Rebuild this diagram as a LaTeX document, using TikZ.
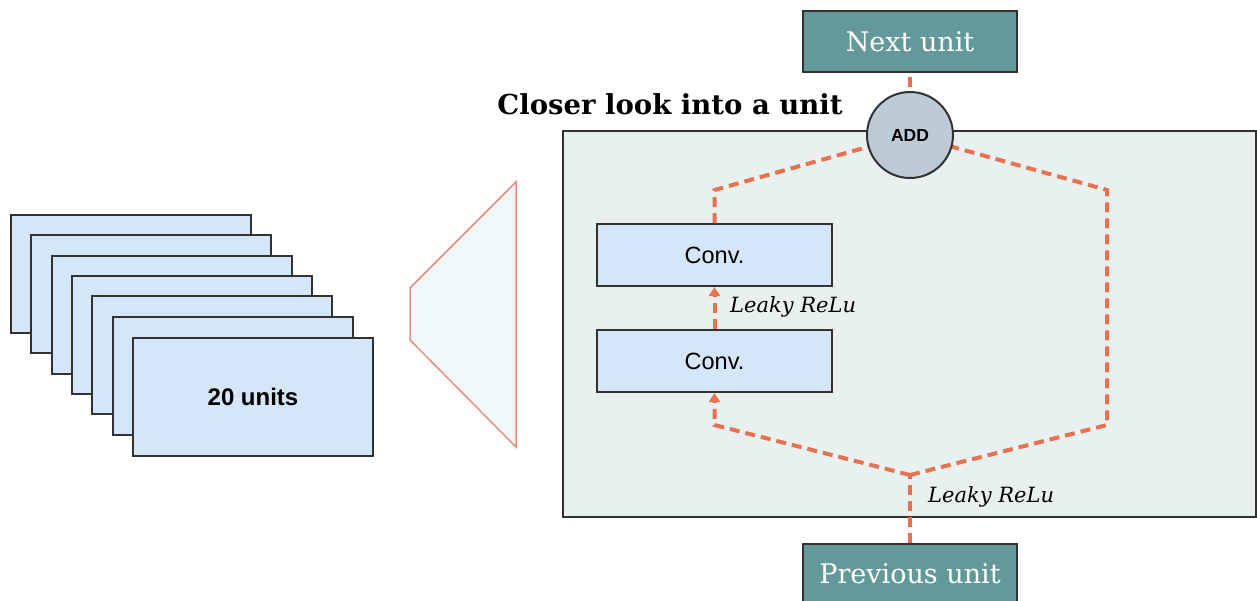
\documentclass[tikz,border=0pt]{standalone}
\usepackage{fontspec}
\setmainfont{DejaVu Serif}
\newfontfamily\sansf{Liberation Sans}
\usetikzlibrary{arrows.meta}
\definecolor{teal1}{RGB}{99,153,153}
\definecolor{panelc}{RGB}{232,240,240}
\definecolor{convc}{RGB}{212,230,247}
\definecolor{addc}{RGB}{188,203,214}
\definecolor{dashc}{RGB}{232,113,79}
\definecolor{trapline}{RGB}{232,144,127}
\definecolor{trapfill}{RGB}{240,248,250}
\definecolor{edgec}{RGB}{50,50,50}
\tikzset{
  unitbox/.style={draw=edgec, line width=2pt, fill=teal1, text=white, minimum width=214pt, minimum height=61pt, inner sep=0pt, font=\fontsize{27}{31}\selectfont},
  convbox/.style={draw=edgec, line width=2pt, fill=convc, minimum width=235pt, minimum height=62pt, inner sep=0pt, font=\sansf\fontsize{23.5}{27}\selectfont},
  card/.style={draw=edgec, line width=2pt, fill=convc, minimum width=240pt, minimum height=118pt, inner sep=0pt, font=\sansf\bfseries\fontsize{24}{28}\selectfont},
  addnode/.style={circle, draw=edgec, line width=2pt, fill=addc, minimum size=86pt, inner sep=0pt, font=\sansf\bfseries\fontsize{17.5}{20}\selectfont},
  flow/.style={draw=dashc, line width=4pt, dash pattern=on 10pt off 6pt},
  flowarrow/.style={flow, -{Triangle[length=9pt,width=11pt]}},
  relu/.style={font=\itshape\fontsize{21}{24}\selectfont, inner sep=0pt}
}
\begin{document}
\begin{tikzpicture}[x=1pt,y=-1pt]
\useasboundingbox (0,0) rectangle (1257,600);
% stack of cards
\foreach \i in {0,...,5}{
  \node[card] (card\i) at ({131+20.3*\i},{274+20.3*\i}) {};
}
\node[card] (front) at (253,397) {20 units};
% trapezoid
\draw[draw=trapline, line width=1.5pt, fill=trapfill] (410,288) -- (516,182) -- (516,447) -- (410,340) -- cycle;
% panel
\node[draw=edgec, line width=2pt, fill=panelc, minimum width=693pt, minimum height=386pt, inner sep=0pt] (panel) at (909.5,324) {};
\node[font=\bfseries\fontsize{27.5}{32}\selectfont, inner sep=0pt] (title) at (670,104) {Closer look into a unit};
% boxes
\node[unitbox] (next) at (910,41.5) {Next unit};
\node[unitbox] (prev) at (910,574) {Previous unit};
\node[convbox] (conv2) at (714.5,255) {Conv.};
\node[convbox] (conv1) at (714.5,361) {Conv.};
\coordinate (lt) at (714.5,190);
\coordinate (lb) at (714.5,425);
\coordinate (rt) at (1107,190);
\coordinate (rb) at (1107,425);
\coordinate (split) at (910,475);
% flows
\draw[flow] (prev.north) -- (split);
\draw[flowarrow] (split) -- (lb) -- (conv1.south);
\draw[flowarrow] (conv1.north) -- (conv2.south);
\draw[flow] (conv2.north) -- (lt) -- (910,135);
\draw[flow] (split) -- (rb) -- (rt) -- (910,135);
\draw[flow] (910,135) -- (next.south);
\node[addnode] (add) at (910,135) {ADD};
% labels
\node[relu, anchor=west] (relu1) at (730,307) {Leaky ReLu};
\node[relu, anchor=west] (relu2) at (928,497) {Leaky ReLu};
\end{tikzpicture}
\end{document}
